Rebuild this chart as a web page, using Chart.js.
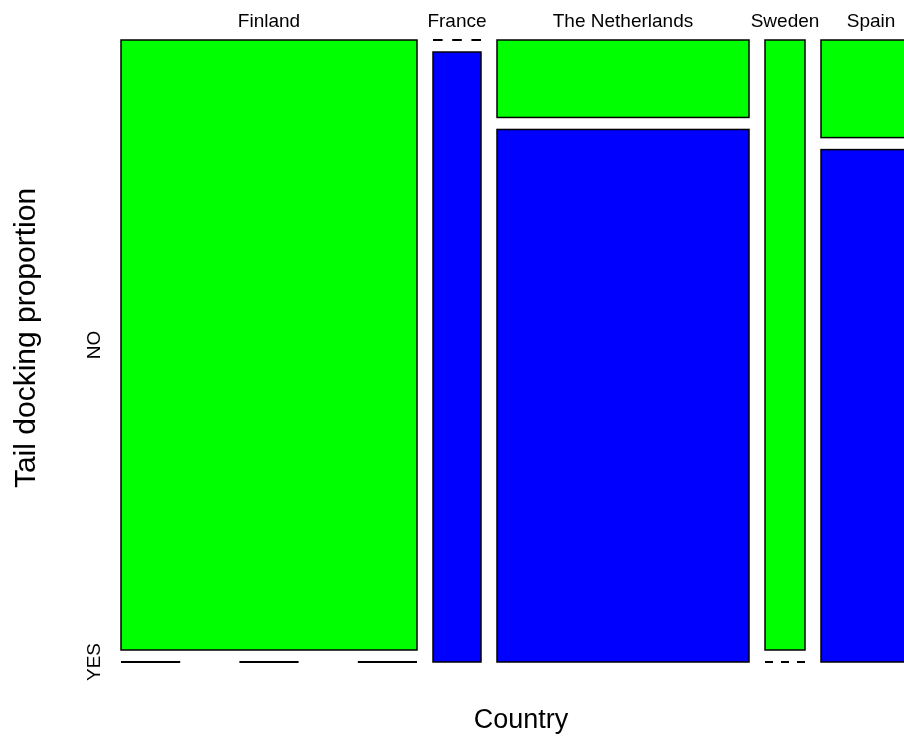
<!DOCTYPE html>
<html>
<head>
<meta charset="utf-8">
<title>Tail docking proportion by country</title>
<script src="https://cdn.jsdelivr.net/npm/chart.js@4.4.0/dist/chart.umd.min.js"></script>
<style>
    html, body { margin: 0; padding: 0; background: #fff; overflow: hidden; }
    #wrap { width: 924px; height: 740px; }
</style>
</head>
<body>
<div id="wrap"><canvas id="mosaicChart" width="924" height="740"></canvas></div>
<script>
// Farms per country, split by the tail docking answer
const countries = ['Finland', 'France', 'The Netherlands', 'Sweden', 'Spain'];
const noCounts = [74, 0, 8, 10, 4];
const yesCounts = [0, 12, 55, 0, 21];
const answerLabels = ['NO', 'YES'];

// Look of the mosaic
const colGap = 4;        // space between countries, in farm units
const rowGap = 0.0193;   // space between NO and YES, as share of the height
const noColor = '#00ff00';
const yesColor = '#0000ff';
const labelFont = '19px "Liberation Sans", Arial, sans-serif';
const xTitleFont = '27px "Liberation Sans", Arial, sans-serif';
const yTitleFont = '30px "Liberation Sans", Arial, sans-serif';

const totals = countries.map((c, i) => noCounts[i] + yesCounts[i]);
const xMax = totals.reduce((a, b) => a + b, 0) + colGap * (countries.length - 1);

function buildColumns() {
    let start = 0;
    return countries.map((name, i) => {
        const col = {
            name: name,
            x0: start,
            x1: start + totals[i],
            pYes: yesCounts[i] / totals[i]
        };
        start += totals[i] + colGap;
        return col;
    });
}

function drawCell(ctx, left, right, bottom, top, color) {
    if (Math.abs(bottom - top) < 0.5) {
        // empty cell: R style dashed line
        const w = right - left;
        ctx.save();
        ctx.strokeStyle = '#000';
        ctx.lineWidth = 2;
        ctx.setLineDash([w / 5, w / 5]);
        ctx.beginPath();
        ctx.moveTo(left, bottom);
        ctx.lineTo(right, bottom);
        ctx.stroke();
        ctx.restore();
        return;
    }
    ctx.fillStyle = color;
    ctx.fillRect(left, top, right - left, bottom - top);
    ctx.strokeStyle = '#000';
    ctx.lineWidth = 1.5;
    ctx.strokeRect(left, top, right - left, bottom - top);
}

const mosaicPlugin = {
    id: 'mosaic',
    afterDraw(chart) {
        const ctx = chart.ctx;
        const x = chart.scales.x;
        const y = chart.scales.y;
        const cols = buildColumns();

        ctx.save();
        cols.forEach(col => {
            const left = x.getPixelForValue(col.x0);
            const right = x.getPixelForValue(col.x1);
            const yesTop = (1 - rowGap) * col.pYes;
            const noBottom = yesTop + rowGap;
            drawCell(ctx, left, right, y.getPixelForValue(0), y.getPixelForValue(yesTop), yesColor);
            drawCell(ctx, left, right, y.getPixelForValue(noBottom), y.getPixelForValue(1), noColor);

            // country name above each column
            ctx.fillStyle = '#000';
            ctx.font = labelFont;
            ctx.textAlign = 'center';
            ctx.textBaseline = 'alphabetic';
            ctx.fillText(col.name, (left + right) / 2, 27);
        });

        // NO / YES labels at the cells of the first column
        const first = cols[0];
        const firstYesTop = (1 - rowGap) * first.pYes;
        const labelPos = [
            (firstYesTop + rowGap + 1) / 2,
            firstYesTop / 2
        ];
        answerLabels.forEach((lab, i) => {
            ctx.save();
            ctx.translate(100, y.getPixelForValue(labelPos[i]));
            ctx.rotate(-Math.PI / 2);
            ctx.font = labelFont;
            ctx.textAlign = 'center';
            ctx.textBaseline = 'alphabetic';
            ctx.fillStyle = '#000';
            ctx.fillText(lab, 0, 0);
            ctx.restore();
        });

        // axis titles
        ctx.fillStyle = '#000';
        ctx.textAlign = 'center';
        ctx.textBaseline = 'alphabetic';
        ctx.font = xTitleFont;
        ctx.fillText('Country', (x.left + x.right) / 2, 728);

        ctx.save();
        ctx.font = yTitleFont;
        ctx.translate(35, (y.top + y.bottom) / 2 - 13);
        ctx.rotate(-Math.PI / 2);
        ctx.fillText('Tail docking proportion', 0, 0);
        ctx.restore();

        ctx.restore();
    }
};

new Chart(document.getElementById('mosaicChart'), {
    type: 'scatter',
    data: { datasets: [] },
    options: {
        responsive: false,
        animation: false,
        devicePixelRatio: 1,
        layout: {
            padding: { left: 121, top: 40, right: 3, bottom: 78 }
        },
        plugins: {
            legend: { display: false },
            tooltip: { enabled: false }
        },
        scales: {
            x: { type: 'linear', min: 0, max: xMax, display: false },
            y: { type: 'linear', min: 0, max: 1, display: false }
        }
    },
    plugins: [mosaicPlugin]
});
</script>
</body>
</html>
